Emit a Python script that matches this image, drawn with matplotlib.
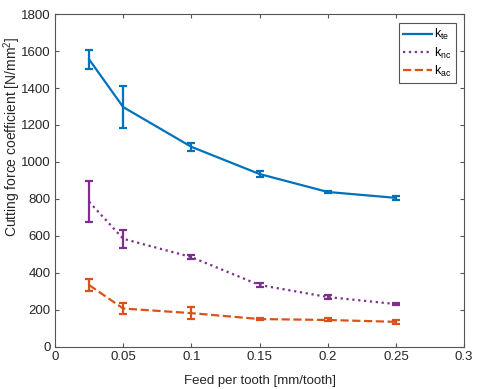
import matplotlib.pyplot as plt
import numpy as np

plt.rcParams['font.family'] = ['Liberation Sans', 'DejaVu Sans']
plt.rcParams['mathtext.fontset'] = 'custom'
plt.rcParams['mathtext.rm'] = 'Liberation Sans'
plt.rcParams['mathtext.it'] = 'Liberation Sans'

feed = [0.025, 0.05, 0.1, 0.15, 0.2, 0.25]

k_te = [1555, 1297, 1082, 935, 838, 806]
k_te_err = [53, 113, 20, 15, 6, 12]
k_nc = [785, 585, 486, 335, 270, 232]
k_nc_err = [110, 48, 12, 12, 12, 4]
k_ac = [335, 208, 183, 151, 146, 136]
k_ac_err = [30, 28, 33, 5, 8, 12]

fig = plt.figure(figsize=(4.78, 3.89), dpi=100)
ax = fig.add_axes([0.115, 0.108, 0.856, 0.856])

ax.errorbar(feed, k_te, yerr=k_te_err, color='#0072BD', lw=1.6, capsize=3,
            capthick=1.6, elinewidth=1.6, label='k$_{te}$')
ax.errorbar(feed, k_nc, yerr=k_nc_err, color='#7E2F8E', lw=1.6, ls=':', capsize=3,
            capthick=1.6, elinewidth=1.6, label='k$_{nc}$')
ax.errorbar(feed, k_ac, yerr=k_ac_err, color='#D95319', lw=1.6, ls='--', capsize=3,
            capthick=1.6, elinewidth=1.6, label='k$_{ac}$')

ax.set_xlim(0, 0.3)
ax.set_ylim(0, 1800)
ax.set_xticks([0, 0.05, 0.1, 0.15, 0.2, 0.25, 0.3])
ax.set_xticklabels(['0', '0.05', '0.1', '0.15', '0.2', '0.25', '0.3'])
ax.set_yticks(np.arange(0, 1801, 200))
ax.tick_params(direction='in', top=True, right=True, labelsize=9.5, length=3,
               color='#555555', labelcolor='#262626', pad=3)
for s in ax.spines.values():
    s.set_color('#555555')
    s.set_linewidth(0.8)

ax.set_xlabel('Feed per tooth [mm/tooth]', fontsize=9.5, color='#262626')
ax.set_ylabel('Cutting force coefficient [N/mm$^2$]', fontsize=10, color='#262626')
ax.xaxis.set_label_coords(0.5, -0.085)
ax.yaxis.set_label_coords(-0.078, 0.63)

handles, labels = ax.get_legend_handles_labels()
handles = [h[0] for h in handles]
leg = ax.legend(handles, labels, loc='upper right', fontsize=9, fancybox=False,
                edgecolor='#555555', framealpha=1, handlelength=2.3, borderpad=0.35,
                labelspacing=0.25, handletextpad=0.2, borderaxespad=0,
                bbox_to_anchor=(0.98, 0.973))
leg.get_frame().set_linewidth(0.8)

fig.savefig('out.png', dpi=100)
